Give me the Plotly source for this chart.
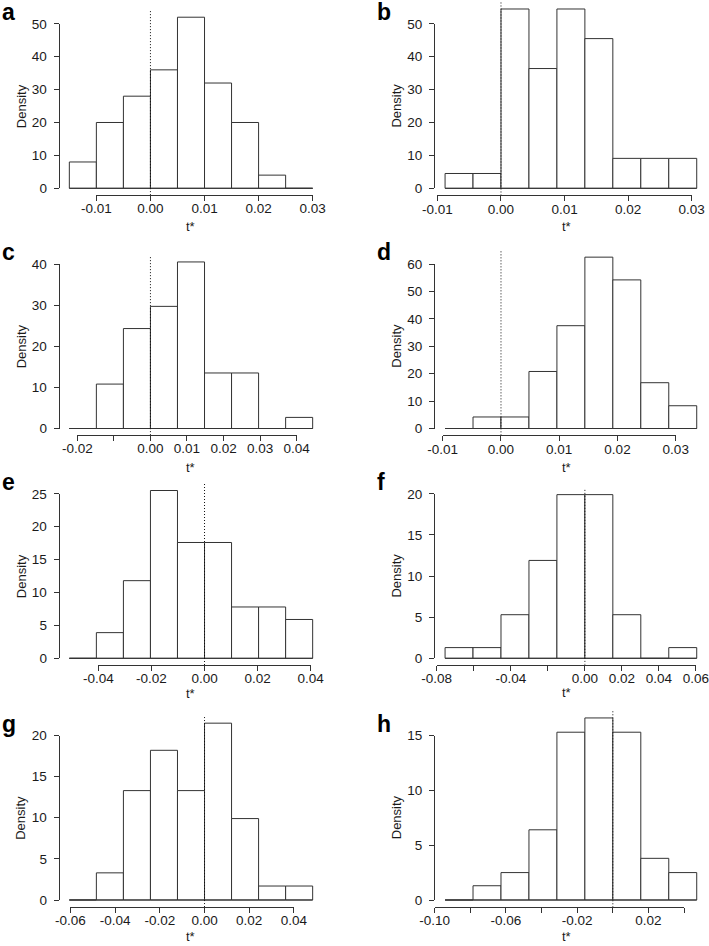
import plotly.graph_objects as go

# panel letters, in reading order
panels = ['a', 'b', 'c', 'd', 'e', 'f', 'g', 'h']

# first break and bin width of each histogram (9 equal bins, 0 is always a break)
bin_start = [-0.015, -0.0088, -0.0222, -0.0096, -0.051, -0.0755, -0.0605, -0.0942]
bin_width = [0.005, 0.0044, 0.0074, 0.0048, 0.0102, 0.0151, 0.0121, 0.0157]

# density of each bin
dens_a = [8, 20, 28, 36, 52, 32, 20, 4, 0]
dens_b = [4.5, 4.5, 54.5, 36.4, 54.5, 45.5, 9.1, 9.1, 9.1]
dens_c = [0, 10.8, 24.3, 29.7, 40.5, 13.5, 13.5, 0, 2.7]
dens_d = [0, 4.2, 4.2, 20.8, 37.5, 62.5, 54.2, 16.7, 8.3]
dens_e = [0, 3.9, 11.8, 25.5, 17.6, 17.6, 7.8, 7.8, 5.9]
dens_f = [1.3, 1.3, 5.3, 11.9, 19.9, 19.9, 5.3, 0, 1.3]
dens_g = [0, 3.3, 13.3, 18.2, 13.3, 21.5, 9.9, 1.7, 1.7]
dens_h = [0, 1.3, 2.5, 6.4, 15.3, 16.6, 15.3, 3.8, 2.5]
densities = [dens_a, dens_b, dens_c, dens_d, dens_e, dens_f, dens_g, dens_h]

# x axis ticks ('' where the label was left out)
xticks_a = [-0.01, 0.0, 0.01, 0.02, 0.03]
xlabels_a = ['-0.01', '0.00', '0.01', '0.02', '0.03']
xticks_b = [-0.01, 0.0, 0.01, 0.02, 0.03]
xlabels_b = ['-0.01', '0.00', '0.01', '0.02', '0.03']
xticks_c = [-0.02, -0.01, 0.0, 0.01, 0.02, 0.03, 0.04]
xlabels_c = ['-0.02', '', '0.00', '0.01', '0.02', '0.03', '0.04']
xticks_d = [-0.01, 0.0, 0.01, 0.02, 0.03]
xlabels_d = ['-0.01', '0.00', '0.01', '0.02', '0.03']
xticks_e = [-0.04, -0.02, 0.0, 0.02, 0.04]
xlabels_e = ['-0.04', '-0.02', '0.00', '0.02', '0.04']
xticks_f = [-0.08, -0.06, -0.04, -0.02, 0.0, 0.02, 0.04, 0.06]
xlabels_f = ['-0.08', '', '-0.04', '', '0.00', '0.02', '0.04', '0.06']
xticks_g = [-0.06, -0.04, -0.02, 0.0, 0.02, 0.04]
xlabels_g = ['-0.06', '-0.04', '-0.02', '0.00', '0.02', '0.04']
xticks_h = [-0.10, -0.08, -0.06, -0.04, -0.02, 0.0, 0.02, 0.04]
xlabels_h = ['-0.10', '', '-0.06', '', '-0.02', '', '0.02', '']
xticks = [xticks_a, xticks_b, xticks_c, xticks_d, xticks_e, xticks_f, xticks_g, xticks_h]
xlabels = [xlabels_a, xlabels_b, xlabels_c, xlabels_d, xlabels_e, xlabels_f, xlabels_g, xlabels_h]

# y axis ticks
yticks_a = [0, 10, 20, 30, 40, 50]
yticks_b = [0, 10, 20, 30, 40, 50]
yticks_c = [0, 10, 20, 30, 40]
yticks_d = [0, 10, 20, 30, 40, 50, 60]
yticks_e = [0, 5, 10, 15, 20, 25]
yticks_f = [0, 5, 10, 15, 20]
yticks_g = [0, 5, 10, 15, 20]
yticks_h = [0, 5, 10, 15]
yticks = [yticks_a, yticks_b, yticks_c, yticks_d, yticks_e, yticks_f, yticks_g, yticks_h]

# page geometry (pixels)
W, H = 709, 946
col_px = [(59.6, 322.4), (435.0, 706.8)]   # plot region left/right per column
zero_px = [188.3, 428.5, 658.3, 900.0]      # where y = 0 sits in each row
tick_span = 164.5                           # px from 0 to the top y tick
title_dx = [0, -4]                          # x offset of "t*" per column
title_dy = [-31, -32, -28, -29]             # y offset of "t*" per row

FONT = 'Liberation Sans, Arial, sans-serif'
INK = '#333333'
TXT = '#1a1a1a'


def nm(k):
    return '' if k == 1 else str(k)


fig = go.Figure()
layout = {}
annotations = []

for i, p in enumerate(panels):
    row, col = divmod(i, 2)
    xd = yd = 2 * i + 1   # data axes (hidden, R plot region)
    xt = yt = 2 * i + 2   # drawn axes (span first to last tick)
    dens = densities[i]
    w = bin_width[i]
    edges = [bin_start[i] + w * k for k in range(len(dens) + 1)]
    centers = [(edges[k] + edges[k + 1]) / 2 for k in range(len(dens))]
    span = edges[-1] - edges[0]
    xr = [edges[0] - 0.04 * span, edges[-1] + 0.04 * span]
    ymax = max(dens)
    yr = [-0.04 * ymax, 1.04 * ymax]
    s = tick_span / yticks[i][-1]
    L, R = col_px[col]
    bot = zero_px[row] - yr[0] * s
    top = zero_px[row] - yr[1] * s

    xa, ya = 'x' + nm(xd), 'y' + nm(yd)
    xta, yta = 'x' + nm(xt), 'y' + nm(yt)

    fig.add_trace(go.Bar(x=centers, y=dens, width=w, xaxis=xa, yaxis=ya,
                         marker=dict(color='white', line=dict(color=INK, width=1)),
                         showlegend=False, hoverinfo='skip'))
    # bottom edge of the bins (empty bins show as a flat line)
    fig.add_trace(go.Scatter(x=[edges[0], edges[-1]], y=[0, 0], xaxis=xa, yaxis=ya, mode='lines',
                             line=dict(color=INK, width=1), showlegend=False, hoverinfo='skip'))
    # dotted reference line at t* = 0
    fig.add_trace(go.Scatter(x=[0, 0], y=yr, xaxis=xa, yaxis=ya, mode='lines',
                             line=dict(color='#111111', width=1, dash='1px,2px'),
                             showlegend=False, hoverinfo='skip'))
    # invisible points so the drawn axes get a subplot
    fig.add_trace(go.Scatter(x=[xticks[i][0]], y=[0], xaxis=xta, yaxis=ya, mode='markers',
                             marker=dict(opacity=0), showlegend=False, hoverinfo='skip'))
    fig.add_trace(go.Scatter(x=[xr[0]], y=[0], xaxis=xa, yaxis=yta, mode='markers',
                             marker=dict(opacity=0), showlegend=False, hoverinfo='skip'))

    layout['xaxis' + nm(xd)] = dict(domain=[L / W, R / W], range=xr, visible=False,
                                    anchor=ya, automargin=False)
    layout['yaxis' + nm(yd)] = dict(domain=[1 - bot / H, 1 - top / H], range=yr, visible=False,
                                    anchor=xa, automargin=False)

    t0, t1 = xticks[i][0], xticks[i][-1]
    px0 = L + (t0 - xr[0]) / (xr[1] - xr[0]) * (R - L)
    px1 = L + (t1 - xr[0]) / (xr[1] - xr[0]) * (R - L)
    axis_style = dict(showline=True, linecolor=INK, linewidth=1, ticks='outside', ticklen=5,
                      tickwidth=1, tickcolor=INK, showgrid=False, zeroline=False,
                      automargin=False, fixedrange=True, ticklabeloverflow='allow',
                      tickfont=dict(family=FONT, size=13.5, color=TXT))
    layout['xaxis' + nm(xt)] = dict(domain=[px0 / W, px1 / W], range=[t0, t1], anchor=ya,
                                    tickmode='array', tickvals=xticks[i], ticktext=xlabels[i],
                                    ticklabelstandoff=-4, **axis_style)
    layout['yaxis' + nm(yt)] = dict(domain=[1 - zero_px[row] / H, 1 - (zero_px[row] - tick_span) / H],
                                    range=[0, yticks[i][-1]], anchor=xa, tickmode='array',
                                    tickvals=yticks[i], ticktext=[str(v) for v in yticks[i]],
                                    ticklabelstandoff=4, **axis_style)

    # panel letter
    annotations.append(dict(text='<b>' + p + '</b>', xref=xa + ' domain', yref=yta + ' domain',
                            x=0, y=1, xanchor='left', yanchor='bottom', xshift=-60, yshift=-3,
                            showarrow=False, font=dict(family=FONT, size=23, color='black')))
    # axis titles
    annotations.append(dict(text='Density', xref=xa + ' domain', yref=yta + ' domain',
                            x=0, y=0.5, xshift=-48, textangle=-90, showarrow=False,
                            font=dict(family=FONT, size=13, color=TXT)))
    annotations.append(dict(text='t*', xref=xa + ' domain', yref=ya + ' domain',
                            x=0.5, y=0, xshift=title_dx[col], yshift=title_dy[row], yanchor='middle',
                            showarrow=False, font=dict(family=FONT, size=13, color=TXT)))

fig.update_layout(width=W, height=H, margin=dict(l=0, r=0, t=0, b=0),
                  paper_bgcolor='white', plot_bgcolor='rgba(0,0,0,0)',
                  showlegend=False, hovermode=False, annotations=annotations, **layout)

# drop the browser's default body margin so the figure sits at the page corner
fig.write_html('out.html', config={'displayModeBar': False},
               post_script="document.body.style.margin = '0px';")
